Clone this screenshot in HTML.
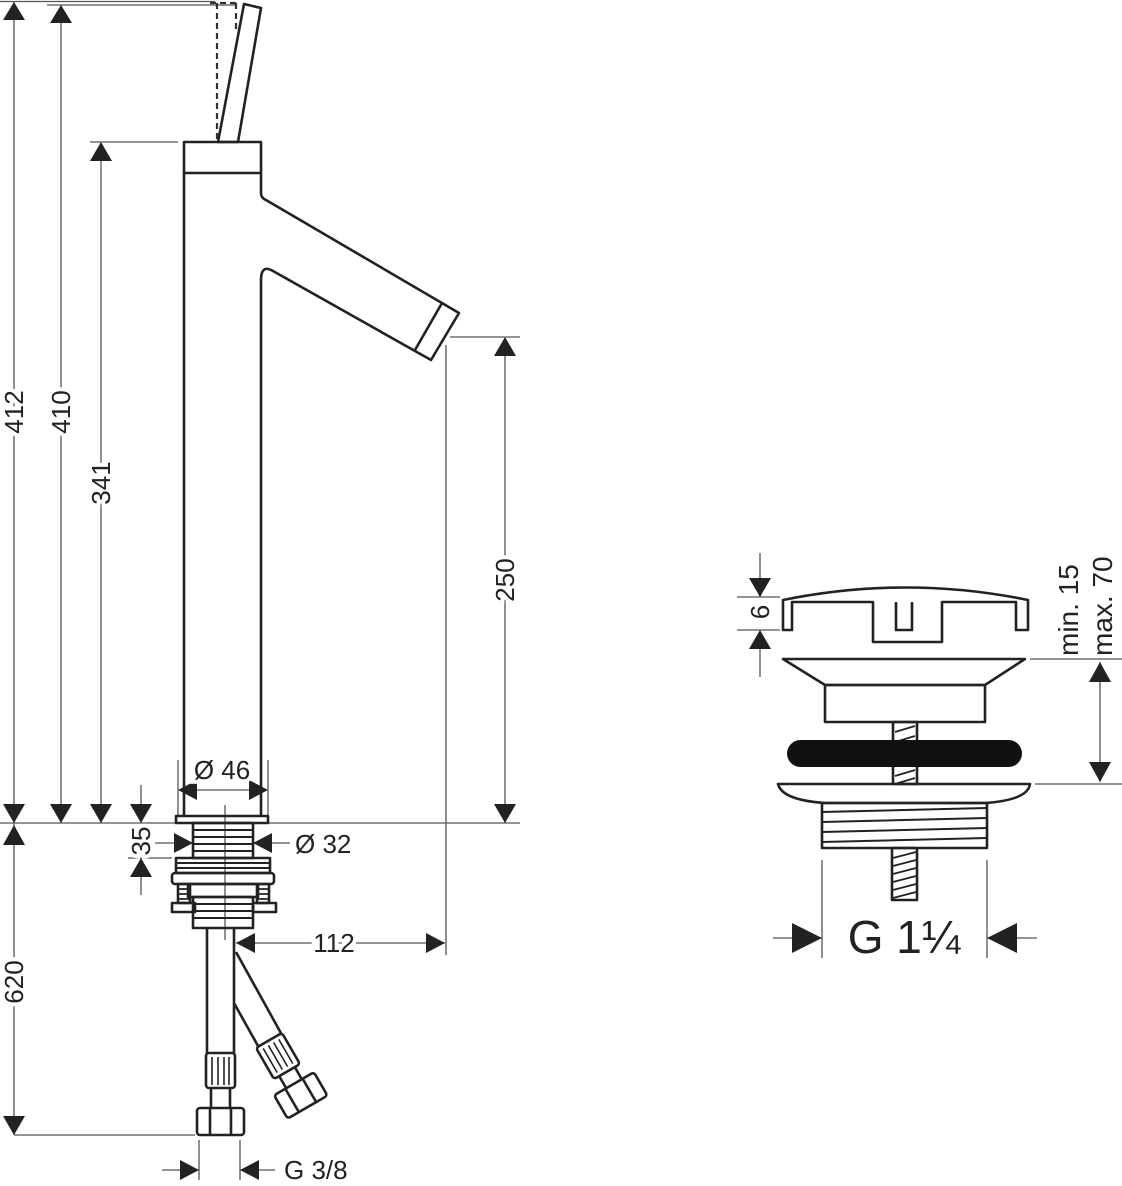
<!DOCTYPE html>
<html><head><meta charset="utf-8"><style>
html,body{margin:0;padding:0;background:#fff;}
svg{display:block;}
text{font-family:"Liberation Sans",sans-serif;fill:#222;}
.t{font-size:26px;paint-order:stroke;stroke:#fff;stroke-width:8px;}
.d{stroke:#555;stroke-width:1.3;fill:none;}
.o{stroke:#222;stroke-width:2.6;fill:none;stroke-linejoin:round;}
.a{fill:#222;}
</style></head><body>
<svg width="1122" height="1186" viewBox="0 0 1122 1186" xmlns="http://www.w3.org/2000/svg">
<path class="d" d="M0 1.5H215 M47 5H237 M90 142H178 M450 337H520 M0 823H520 M14 1135H195 M446 345V955 M178 760V815 M268 760V815 M128 858H172 M199 1140V1180 M240 1140V1180"/>
<path class="d" d="M14 2V823 M61 6V823 M101 143V823 M505 338V823 M14 823V1135 M141 785V823 M141 858V895 M180 790H266 M155 843H193 M253 843H290 M236 943H445 M162 1170H199 M240 1170H275 M225 805V940"/>
<g class="a">
<polygon points="14,2 3,20 25,20"/><polygon points="61,5 50,23 72,23"/><polygon points="101,142 90,161 112,161"/>
<polygon points="14,823 3,804 25,804"/><polygon points="61,823 50,804 72,804"/><polygon points="101,823 90,804 112,804"/><polygon points="141,823 130,804 152,804"/>
<polygon points="14,825 3,845 25,845"/><polygon points="14,1135 3,1116 25,1116"/>
<polygon points="505,337 494,356 516,356"/><polygon points="505,823 494,804 516,804"/>
<polygon points="141,858 130,877 152,877"/>
<polygon points="178,790 197,780 197,800"/><polygon points="268,790 249,780 249,800"/>
<polygon points="193,843 174,833 174,853"/><polygon points="253,843 272,833 272,853"/>
<polygon points="236,943 255,933 255,953"/><polygon points="445,943 426,933 426,953"/>
<polygon points="199,1170 180,1160 180,1180"/><polygon points="240,1170 259,1160 259,1180"/>
</g>
<path d="M217 3V140 M236 3V30 M210 3H236" stroke="#333" stroke-width="2.2" stroke-dasharray="6,4" fill="none"/>
<polygon class="o" points="244,4 261,8 238,142 218,142"/>
<rect class="o" x="184" y="142" width="77" height="31"/>
<path class="o" d="M184 173V816 M261 173V193 Q261 198 266 200 L459 313 L431 360 L273 271 Q261 264 261 280 V816 M442 303 L415 350"/>
<rect class="o" x="176" y="816" width="92" height="7"/>
<rect class="o" x="193" y="823" width="60" height="35"/>
<path class="d" d="M193 830H253 M193 837H253 M193 844H253 M193 851H253" style="stroke:#222;stroke-width:2"/>
<rect class="o" x="176" y="858" width="94" height="15"/>
<path d="M176 863H270 M176 868H270" stroke="#222" stroke-width="2"/>
<rect class="o" x="172" y="873" width="102" height="11" rx="3"/>
<rect class="o" x="178" y="884" width="12" height="19"/><rect class="o" x="257" y="884" width="12" height="19"/>
<path d="M178 889H190 M178 894H190 M178 899H190 M257 889H269 M257 894H269 M257 899H269" stroke="#222" stroke-width="1.8"/>
<rect class="o" x="172" y="903" width="23" height="9"/><rect class="o" x="253" y="903" width="23" height="9"/>
<rect class="o" x="188" y="884" width="70" height="13"/>
<rect class="o" x="193" y="897" width="60" height="31"/>
<path d="M193 904H253 M193 911H253 M193 918H253" stroke="#222" stroke-width="2"/>
<path class="o" d="M207 928V1053 M234 928V1053 M236 952 L282 1035 M234 1003 L258 1046"/>
<rect class="o" x="206" y="1053" width="29" height="35" rx="3"/>
<path d="M212 1057V1085 M218 1057V1085 M224 1057V1085 M229 1057V1085" stroke="#222" stroke-width="1.6"/>
<path class="o" d="M211 1088V1108 M230 1088V1108"/>
<rect class="o" x="197" y="1108" width="47" height="27" rx="3"/>
<path class="o" d="M210 1108V1135 M231 1108V1135"/>
<g transform="translate(278,1056) rotate(-30)">
<rect class="o" x="-15" y="-18" width="30" height="36" rx="3"/>
<path d="M-9 -14V14 M-3 -14V14 M3 -14V14 M9 -14V14" stroke="#222" stroke-width="1.6"/>
<path class="o" d="M-9 18V32 M9 18V32"/>
<rect class="o" x="-23" y="32" width="46" height="27" rx="3"/>
<path class="o" d="M-10 32V59 M10 32V59"/>
</g>
<text class="t" transform="translate(23,412) rotate(-90)" text-anchor="middle">412</text>
<text class="t" transform="translate(70,412) rotate(-90)" text-anchor="middle">410</text>
<text class="t" transform="translate(110,483) rotate(-90)" text-anchor="middle">341</text>
<text class="t" transform="translate(514,580) rotate(-90)" text-anchor="middle">250</text>
<text class="t" transform="translate(23,982) rotate(-90)" text-anchor="middle">620</text>
<text class="t" transform="translate(150,841) rotate(-90)" text-anchor="middle">35</text>
<text class="t" x="222" y="779" text-anchor="middle">Ø 46</text>
<text class="t" x="295" y="853">Ø 32</text>
<text class="t" x="334" y="952" text-anchor="middle">112</text>
<text class="t" x="284" y="1179">G 3/8</text>
<path class="o" d="M783 630V600 Q906 575 1028 600V630 H1016 V602 H942 V642 H873 V602 H792 V630 Z M896 602V630H912V602"/>
<path class="o" d="M783 659H1025L985 685H825Z"/>
<rect class="o" x="825" y="685" width="160" height="37"/>
<rect class="o" x="893" y="722" width="24" height="62"/>
<path d="M895 732L915 726 M895 742L915 736 M895 776L915 770 M895 784L915 778" stroke="#222" stroke-width="1.8"/>
<rect x="787" y="740" width="235" height="27" rx="13.5" fill="#111"/>
<path class="o" d="M778 784H1030 Q1028 800 985 803H825 Q782 800 778 784Z"/>
<rect class="o" x="822" y="803" width="165" height="45"/>
<path d="M822 812L987 808 M822 822L987 818 M822 832L987 828 M822 842L987 838" stroke="#222" stroke-width="2"/>
<rect class="o" x="892" y="848" width="25" height="52"/>
<path d="M893 858L916 852 M893 866L916 860 M893 874L916 868 M893 882L916 876 M893 890L916 884 M893 898L916 892" stroke="#222" stroke-width="1.8"/>
<path class="d" d="M737 597H780 M737 630H780 M760 553V597 M760 630V677 M1030 659H1122 M1035 784H1122 M1100 662V782 M822 860V958 M987 860V958 M773 938H822 M987 938H1037"/>
<g class="a">
<polygon points="760,597 749,578 771,578"/><polygon points="760,630 749,649 771,649"/>
<polygon points="1100,662 1089,682 1111,682"/><polygon points="1100,782 1089,762 1111,762"/>
<polygon points="822,938 792,923 792,953"/><polygon points="987,938 1017,923 1017,953"/>
</g>
<text class="t" transform="translate(769,612) rotate(-90)" text-anchor="middle">6</text>
<text transform="translate(1078,656) rotate(-90)" style="font-size:28px">min. 15</text>
<text transform="translate(1112,656) rotate(-90)" style="font-size:28px">max. 70</text>
<text x="904" y="953" text-anchor="middle" style="font-size:46px">G 1¼</text>
</svg>
</body></html>
